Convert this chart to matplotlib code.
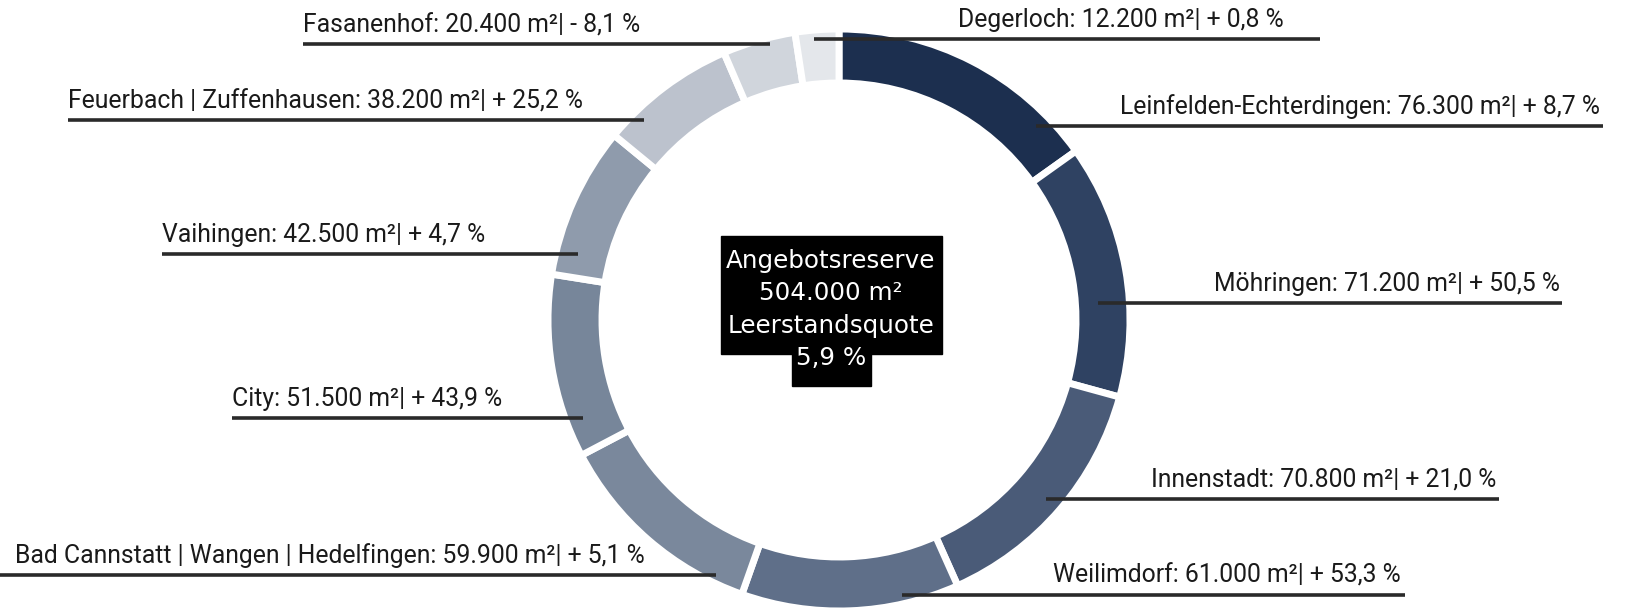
import numpy as np
from matplotlib import pyplot as plt
from matplotlib.patches import Rectangle

# Büroflächen-Angebotsreserve Stuttgart, clockwise from 12 o'clock
names = ['Leinfelden-Echterdingen', 'Möhringen', 'Innenstadt', 'Weilimdorf',
         'Bad Cannstatt | Wangen | Hedelfingen', 'City', 'Vaihingen',
         'Feuerbach | Zuffenhausen', 'Fasanenhof', 'Degerloch']
areas = [76300, 71200, 70800, 61000, 59900, 51500, 42500, 38200, 20400, 12200]
changes = [8.7, 50.5, 21.0, 53.3, 5.1, 43.9, 4.7, 25.2, -8.1, 0.8]
total_area = 504000
vacancy = 5.9

colors = ['#1c2f4f', '#2f4262', '#4a5b78', '#5f6f89', '#7a889c',
          '#77869a', '#8f9bac', '#bcc2cd', '#d0d5dc', '#e4e7eb']

# label layout in pixels: line x0, line x1, line y, text x, alignment
lay = [
    (1036, 1603, 126, 1600, 'right'),
    (1098, 1562, 303, 1560, 'right'),
    (1046, 1499, 499, 1496, 'right'),
    (902, 1405, 595, 1401, 'right'),
    (0, 716, 575, 15, 'left'),
    (232, 583, 418, 232, 'left'),
    (162, 578, 254, 162, 'left'),
    (68, 644, 120, 68, 'left'),
    (303, 770, 44, 303, 'left'),
    (814, 1320, 39, 1284, 'right'),
]

W, H = 1640, 611
cx, cy, r_out, r_in = 839, 320, 291, 237

fig = plt.figure(figsize=(W/100, H/100), dpi=100)
pax = fig.add_axes([(cx-r_out)/W, (H-cy-r_out)/H, 2*r_out/W, 2*r_out/H])
pax.pie(areas, colors=colors, startangle=90, counterclock=False, radius=1,
        wedgeprops=dict(width=(r_out-r_in)/r_out, edgecolor='white', linewidth=5))
pax.set_xlim(-1, 1)
pax.set_ylim(-1, 1)
pax.axis('off')

ax = fig.add_axes([0, 0, 1, 1])
ax.set_xlim(0, W)
ax.set_ylim(H, 0)
ax.axis('off')
ax.patch.set_alpha(0)

def fmt_area(v):
    return f'{v:,.0f}'.replace(',', '.')

def fmt_change(c):
    sign = '+' if c >= 0 else '-'
    return f'{sign} {abs(c):.1f}'.replace('.', ',') + ' %'

for n, a, c, (x0, x1, y, tx, ha) in zip(names, areas, changes, lay):
    ax.plot([x0, x1], [y, y], color='#2a2a2a', lw=2.6, solid_capstyle='butt')
    ax.text(tx, y - 7, f'{n}: {fmt_area(a)} m²| {fmt_change(c)}', ha=ha, va='bottom',
            fontsize=17.8, family='Roboto', color='#1a1a1a')

# center box
ax.add_patch(Rectangle((721, 236), 221, 118, color='black', zorder=3))
ax.add_patch(Rectangle((792, 353), 79, 33, color='black', zorder=3))
center_lines = ['Angebotsreserve', f'{fmt_area(total_area)} m²', 'Leerstandsquote',
                f'{vacancy:.1f}'.replace('.', ',') + ' %']
for i, t in enumerate(center_lines):
    ax.text(831, 261 + i*32.5, t, ha='center', va='center', fontsize=17.7,
            family='DejaVu Sans', color='white', zorder=4)

fig.savefig('out.png', dpi=100)
